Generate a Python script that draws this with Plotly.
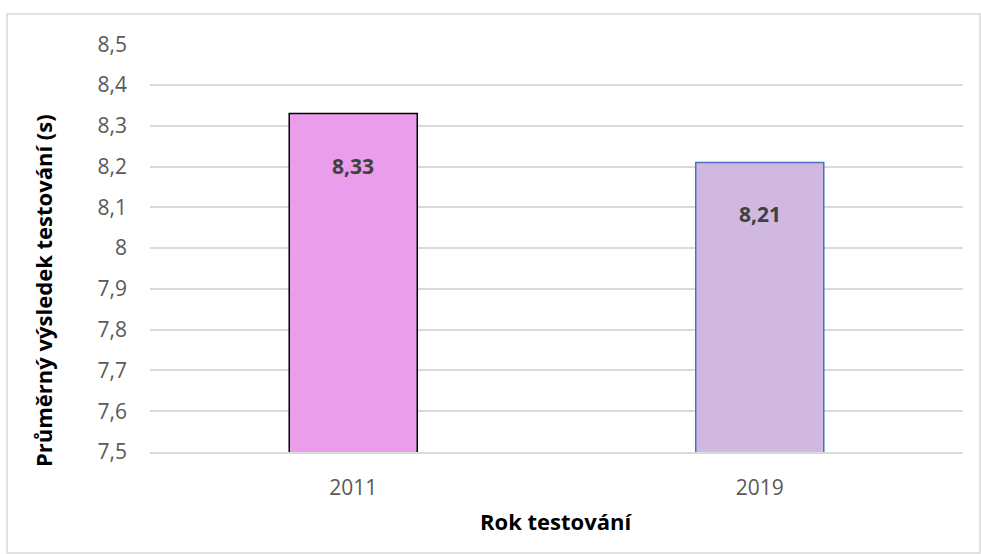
import plotly.graph_objects as go

years = ["2011", "2019"]
values = [8.33, 8.21]
labels = ["8,33", "8,21"]
fill_colors = ["#EA9DEA", "#D0B8E0"]
line_colors = ["#000000", "#4472C4"]

W, H = 981, 554
L, R, T, B = 150, 18, 44, 102
pw = W - L - R
ph = H - T - B

def px_x(x):
    return (x - L) / pw

def px_y(y):
    return (H - B - y) / ph

fig = go.Figure()
fig.add_trace(go.Bar(
    x=years, y=values,
    marker=dict(color=fill_colors, line=dict(color=line_colors, width=1.5)),
    width=0.315,
    hoverinfo="skip",
))
for i, (v, lab) in enumerate(zip(values, labels)):
    fig.add_annotation(x=i, y=v, text="<b>" + lab + "</b>", showarrow=False,
                       yshift=-52, font=dict(size=21, color="#404040",
                                             family="Open Sans"))

# axis titles
fig.add_annotation(xref="paper", yref="paper", x=px_x(556), y=px_y(521),
                   text="<b>Rok testování</b>", showarrow=False,
                   xanchor="center", yanchor="middle",
                   font=dict(size=22, color="#000000", family="Open Sans"))
fig.add_annotation(xref="paper", yref="paper", x=px_x(43), y=px_y(291),
                   text="<b>Průměrný výsledek testování (s)</b>", showarrow=False,
                   textangle=-90, xanchor="center", yanchor="middle",
                   font=dict(size=22, color="#000000", family="Open Sans"))

fig.add_shape(type="rect", xref="paper", yref="paper",
              x0=px_x(7), x1=px_x(980),
              y0=px_y(553), y1=px_y(14),
              line=dict(color="#D9D9D9", width=1.5), layer="below")

fig.update_layout(
    width=W, height=H,
    margin=dict(l=L, r=R, t=T, b=B),
    paper_bgcolor="white", plot_bgcolor="white",
    separators=", ",
    showlegend=False,
    font=dict(family="Open Sans", color="#595959", size=15),
    xaxis=dict(
        type="category", range=[-0.5, 1.5],
        showgrid=False,
        showline=True, linecolor="#D9D9D9", linewidth=1.5,
        ticks="", ticklabelstandoff=16,
        tickfont=dict(size=21, color="#595959"),
    ),
    yaxis=dict(
        range=[7.5, 8.5005], dtick=0.1, tick0=7.5,
        showgrid=True, gridcolor="#D9D9D9", gridwidth=1.5,
        zeroline=False, showline=False,
        ticks="", ticklabelstandoff=22,
        tickfont=dict(size=21, color="#595959"),
    ),
)

fig.write_html("out.html", config={"displayModeBar": False},
               post_script="document.body.style.margin='0';document.body.style.padding='0';")
